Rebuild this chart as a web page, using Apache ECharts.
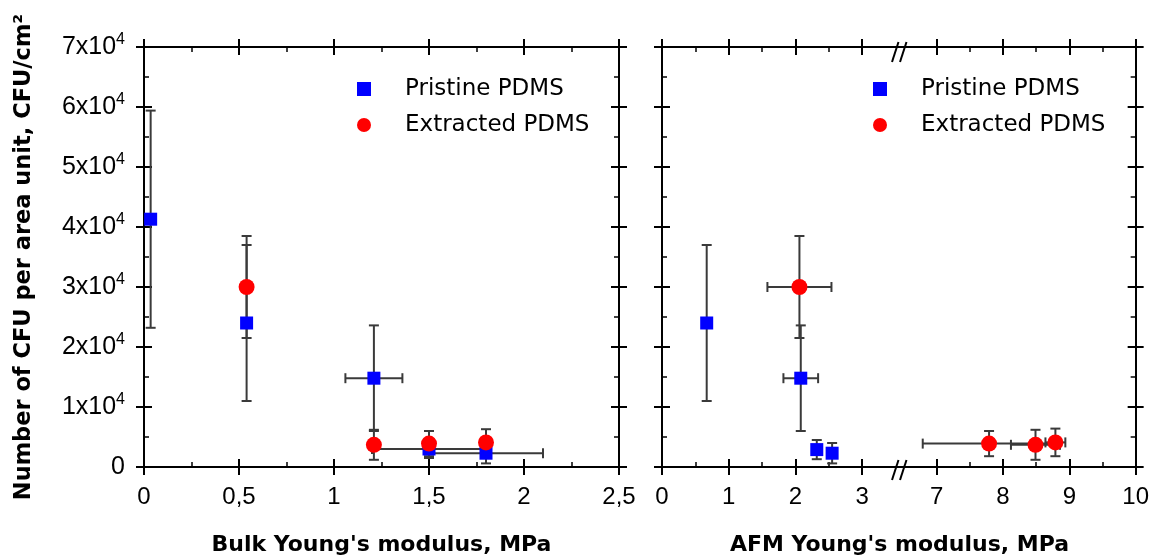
<!DOCTYPE html>
<html>
<head>
<meta charset="utf-8">
<script src="https://cdn.jsdelivr.net/npm/echarts@6/dist/echarts.min.js"></script>
<style>html,body{margin:0;padding:0;background:#fff}#c{width:1152px;height:556px}</style>
</head>
<body>
<div id="c"></div>
<script>
// ---- data: [x, y, xError, yError] ----
const bulkPristine   = [[0.035, 41300, 0, 18100], [0.54, 24000, 0, 13000], [1.21, 14800, 0.15, 8800], [1.50, 3000, 0.30, 1500], [1.80, 2300, 0.30, 1700]];
const bulkExtracted  = [[0.54, 30000, 0, 8500], [1.21, 3700, 0, 2500], [1.50, 3900, 0, 2100], [1.80, 4100, 0, 2200]];
const afmPristine    = [[0.67, 24000, 0, 13000], [2.08, 14800, 0.26, 8800], [2.32, 2900, 0, 1600], [2.55, 2300, 0, 1700]];
const afmExtracted   = [[2.06, 30000, 0.48, 8500], [7.79, 3900, 1.0, 2100], [8.49, 3700, 0.37, 2500], [8.79, 4100, 0.15, 2300]];

const yTicks = [0, 10000, 20000, 30000, 40000, 50000, 60000, 70000];
const yMinor = [5000, 15000, 25000, 35000, 45000, 55000, 65000];
const bulkTicks = [0, 0.5, 1, 1.5, 2, 2.5];
const bulkMinor = [0.25, 0.75, 1.25, 1.75, 2.25];
const afmTicksA = [0, 1, 2, 3];
const afmMinorA = [0.5, 1.5, 2.5];
const afmTicksB = [7, 8, 9, 10];
const afmMinorB = [7.5, 8.5, 9.5];
const seriesNames = ['Pristine PDMS', 'Extracted PDMS'];

// ---- helpers ----
const tickFont = 'Liberation Sans';
function axisSet(gridIndex, position, cfg) {
  const base = {type: 'value', gridIndex, position, min: cfg.min, max: cfg.max, offset: 0,
    splitLine: {show: false}, splitArea: {show: false}, axisPointer: {show: false}};
  const ls = {color: '#000', width: 2};
  return [
    Object.assign({}, base, {axisLine: {show: true, onZero: false, lineStyle: ls},
      axisTick: {show: true, inside: true, length: 8, customValues: cfg.majors, lineStyle: ls},
      axisLabel: {show: false}}),
    Object.assign({}, base, {axisLine: {show: false, onZero: false},
      axisTick: {show: true, inside: false, length: 8, customValues: cfg.majors, lineStyle: ls},
      axisLabel: cfg.label ? Object.assign({customValues: cfg.majors}, cfg.label) : {show: false}}),
    Object.assign({}, base, {axisLine: {show: false, onZero: false},
      axisTick: {show: true, inside: true, length: 5, customValues: cfg.minors, lineStyle: {color: '#000', width: 1.5}},
      axisLabel: {show: false}})
  ];
}
const xLabelBulk = {show: true, margin: 18, fontSize: 24, fontFamily: tickFont, color: '#000',
  formatter: v => String(v).replace('.', ',')};
const xLabelAfm = {show: true, margin: 18, fontSize: 24, fontFamily: tickFont, color: '#000',
  formatter: v => String(v)};
const yLabel = {show: true, margin: 19, color: '#000',
  formatter: v => v === 0 ? '{b|0}' : '{b|' + (v / 10000) + 'x10}{s|4}',
  rich: {b: {fontSize: 25, fontFamily: tickFont, color: '#000', lineHeight: 30},
         s: {fontSize: 16, fontFamily: tickFont, color: '#000', verticalAlign: 'top', lineHeight: 30}}};

const bulkX = {min: 0, max: 2.5, majors: bulkTicks, minors: bulkMinor};
const afmXA = {min: 0, max: 3.5, majors: afmTicksA, minors: afmMinorA};
const afmXB = {min: 6.5, max: 10, majors: afmTicksB, minors: afmMinorB};
const yCfg = {min: 0, max: 70000, majors: yTicks, minors: yMinor};

const xAxis = [].concat(
  axisSet(0, 'bottom', Object.assign({label: xLabelBulk}, bulkX)),  // 0..2
  axisSet(0, 'top', bulkX),                                          // 3..5
  axisSet(1, 'bottom', Object.assign({label: xLabelAfm}, afmXA)),   // 6..8
  axisSet(1, 'top', afmXA),                                          // 9..11
  axisSet(2, 'bottom', Object.assign({label: xLabelAfm}, afmXB)),   // 12..14
  axisSet(2, 'top', afmXB)                                           // 15..17
);
const yAxis = [].concat(
  axisSet(0, 'left', Object.assign({label: yLabel}, yCfg)),  // 0..2
  axisSet(0, 'right', yCfg),                                  // 3..5
  axisSet(1, 'left', yCfg),                                   // 6..8
  axisSet(2, 'right', yCfg)                                   // 9..11
);

function errorBars(data, xi, yi) {
  return {
    type: 'custom', xAxisIndex: xi, yAxisIndex: yi, data, z: 2, silent: true, clip: false,
    encode: {x: 0, y: 1},
    renderItem(params, api) {
      const x = api.value(0), y = api.value(1), ex = api.value(2), ey = api.value(3);
      const style = {stroke: '#3a3a3a', lineWidth: 2};
      const cap = 5;
      const ch = [];
      if (ey > 0) {
        const a = api.coord([x, y + ey]), b = api.coord([x, y - ey]);
        ch.push({type: 'line', shape: {x1: a[0], y1: a[1], x2: b[0], y2: b[1]}, style});
        ch.push({type: 'line', shape: {x1: a[0] - cap, y1: a[1], x2: a[0] + cap, y2: a[1]}, style});
        ch.push({type: 'line', shape: {x1: b[0] - cap, y1: b[1], x2: b[0] + cap, y2: b[1]}, style});
      }
      if (ex > 0) {
        const a = api.coord([x - ex, y]), b = api.coord([x + ex, y]);
        ch.push({type: 'line', shape: {x1: a[0], y1: a[1], x2: b[0], y2: b[1]}, style});
        ch.push({type: 'line', shape: {x1: a[0], y1: a[1] - cap, x2: a[0], y2: a[1] + cap}, style});
        ch.push({type: 'line', shape: {x1: b[0], y1: b[1] - cap, x2: b[0], y2: b[1] + cap}, style});
      }
      return {type: 'group', children: ch};
    }
  };
}
function pts(name, data, xi, yi) {
  const pristine = name === seriesNames[0];
  return {
    type: 'scatter', name, data: data.map(d => [d[0], d[1]]), xAxisIndex: xi, yAxisIndex: yi,
    symbol: pristine ? 'rect' : 'circle', symbolSize: pristine ? 13 : 16, z: pristine ? 3 : 4,
    itemStyle: {color: pristine ? '#0000ff' : '#ff0000', opacity: 1},
    emphasis: {disabled: true}
  };
}
const inA = d => d[0] < 3.5, inB = d => d[0] > 6.5;

const series = [
  errorBars(bulkPristine, 0, 0), errorBars(bulkExtracted, 0, 0),
  pts(seriesNames[0], bulkPristine, 0, 0), pts(seriesNames[1], bulkExtracted, 0, 0),
  errorBars(afmPristine.filter(inA), 6, 6), errorBars(afmExtracted.filter(inA), 6, 6),
  pts(seriesNames[0], afmPristine.filter(inA), 6, 6), pts(seriesNames[1], afmExtracted.filter(inA), 6, 6),
  errorBars(afmPristine.filter(inB), 12, 9), errorBars(afmExtracted.filter(inB), 12, 9),
  pts(seriesNames[0], afmPristine.filter(inB), 12, 9), pts(seriesNames[1], afmExtracted.filter(inB), 12, 9)
];

const legendBase = {orient: 'vertical', top: 76, padding: 0, itemWidth: 14, itemHeight: 14, itemGap: 10,
  selectedMode: false, data: seriesNames,
  textStyle: {fontFamily: 'DejaVu Sans', fontSize: 23, color: '#000', lineHeight: 26, padding: [0, 0, 0, 29]}};

const chart = echarts.init(document.getElementById('c'), null, {renderer: 'canvas'});
chart.setOption({
  backgroundColor: '#ffffff',
  animation: false,
  grid: [
    {left: 144, top: 47, width: 475, height: 420},
    {left: 662, top: 47, width: 233.5, height: 420},
    {left: 903.5, top: 47, width: 233.5, height: 420}
  ],
  xAxis, yAxis, series,
  legend: [
    Object.assign({left: 357}, legendBase),
    Object.assign({left: 873}, legendBase)
  ],
  graphic: [
    {type: 'text', x: 24, y: 257, rotation: Math.PI / 2,
     style: {text: 'Number of CFU per area unit, CFU/cm²', font: 'bold 22.5px "DejaVu Sans"', fill: '#000', align: 'center', verticalAlign: 'middle'}},
    {type: 'text', x: 381.5, y: 545,
     style: {text: "Bulk Young's modulus, MPa", font: 'bold 22px "DejaVu Sans"', fill: '#000', align: 'center', verticalAlign: 'middle'}},
    {type: 'text', x: 899.5, y: 545,
     style: {text: "AFM Young's modulus, MPa", font: 'bold 22px "DejaVu Sans"', fill: '#000', align: 'center', verticalAlign: 'middle'}},
    {type: 'line', shape: {x1: 895, y1: 47, x2: 904, y2: 47}, style: {stroke: '#000', lineWidth: 2}},
    {type: 'line', shape: {x1: 895, y1: 467, x2: 904, y2: 467}, style: {stroke: '#000', lineWidth: 2}},
    {type: 'line', shape: {x1: 892, y1: 62, x2: 898.5, y2: 42}, style: {stroke: '#000', lineWidth: 2}},
    {type: 'line', shape: {x1: 900, y1: 62, x2: 906.5, y2: 42}, style: {stroke: '#000', lineWidth: 2}},
    {type: 'line', shape: {x1: 892, y1: 480, x2: 898.5, y2: 460}, style: {stroke: '#000', lineWidth: 2}},
    {type: 'line', shape: {x1: 900, y1: 480, x2: 906.5, y2: 460}, style: {stroke: '#000', lineWidth: 2}}
  ]
});
</script>
</body>
</html>
